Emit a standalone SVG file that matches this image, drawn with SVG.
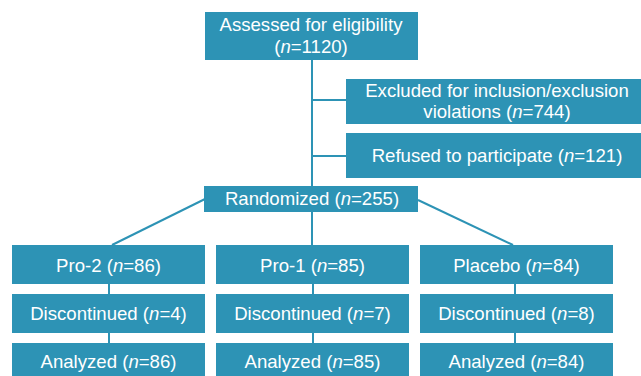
<svg xmlns="http://www.w3.org/2000/svg" width="641" height="376" viewBox="0 0 641 376">
<style>
.box{fill:#2d93b5}
.t{font-family:"Liberation Sans",Arial,sans-serif;font-size:18.6px;fill:#ffffff;text-anchor:middle}
.c line{stroke:#2d93b5;stroke-width:2;fill:none}
</style>
<rect width="641" height="376" fill="#ffffff"/>
<g class="c" id="connectors">
<line x1="312" y1="60" x2="312" y2="186"/>
<line x1="312" y1="100" x2="346" y2="100"/>
<line x1="312" y1="156" x2="346" y2="156"/>
<line x1="312" y1="212" x2="312" y2="245"/>
<line x1="205" y1="199" x2="112" y2="245"/>
<line x1="418" y1="200" x2="513" y2="245"/>
<line x1="109" y1="284" x2="109" y2="294"/>
<line x1="109" y1="333" x2="109" y2="343"/>
<line x1="313" y1="284" x2="313" y2="294"/>
<line x1="313" y1="333" x2="313" y2="343"/>
<line x1="515" y1="284" x2="515" y2="294"/>
<line x1="515" y1="333" x2="515" y2="343"/>
</g>
<g id="assessed"><rect class="box" x="205" y="12" width="213" height="48"/>
<text class="t" x="311" y="30.7">Assessed for eligibility</text>
<text class="t" x="311" y="53.3">(<tspan font-style="italic">n</tspan>=1120)</text></g>
<g id="excluded"><rect class="box" x="346" y="79" width="295" height="45"/>
<text class="t" x="497" y="96.7">Excluded for inclusion/exclusion</text>
<text class="t" x="497" y="118.3">violations (<tspan font-style="italic">n</tspan>=744)</text></g>
<g id="refused"><rect class="box" x="346" y="133" width="295" height="45"/>
<text class="t" x="497" y="162.3">Refused to participate (<tspan font-style="italic">n</tspan>=121)</text></g>
<g id="randomized"><rect class="box" x="204" y="186" width="214" height="26"/>
<text class="t" x="312" y="204.5">Randomized (<tspan font-style="italic">n</tspan>=255)</text></g>
<g id="pro2"><rect class="box" x="12" y="245" width="193" height="39"/>
<text class="t" x="108.5" y="271.5">Pro-2 (<tspan font-style="italic">n</tspan>=86)</text></g>
<g id="pro1"><rect class="box" x="216" y="245" width="193" height="39"/>
<text class="t" x="312.5" y="271.5">Pro-1 (<tspan font-style="italic">n</tspan>=85)</text></g>
<g id="placebo"><rect class="box" x="420" y="245" width="193" height="39"/>
<text class="t" x="516.5" y="271.5">Placebo (<tspan font-style="italic">n</tspan>=84)</text></g>
<g id="disc1"><rect class="box" x="12" y="294" width="193" height="39"/>
<text class="t" x="108.5" y="320">Discontinued (<tspan font-style="italic">n</tspan>=4)</text></g>
<g id="disc2"><rect class="box" x="216" y="294" width="193" height="39"/>
<text class="t" x="312.5" y="320">Discontinued (<tspan font-style="italic">n</tspan>=7)</text></g>
<g id="disc3"><rect class="box" x="420" y="294" width="193" height="39"/>
<text class="t" x="516.5" y="320">Discontinued (<tspan font-style="italic">n</tspan>=8)</text></g>
<g id="an1"><rect class="box" x="12" y="343" width="193" height="40"/>
<text class="t" x="108.5" y="368">Analyzed (<tspan font-style="italic">n</tspan>=86)</text></g>
<g id="an2"><rect class="box" x="216" y="343" width="193" height="40"/>
<text class="t" x="312.5" y="368">Analyzed (<tspan font-style="italic">n</tspan>=85)</text></g>
<g id="an3"><rect class="box" x="420" y="343" width="193" height="40"/>
<text class="t" x="516.5" y="368">Analyzed (<tspan font-style="italic">n</tspan>=84)</text></g>
</svg>
